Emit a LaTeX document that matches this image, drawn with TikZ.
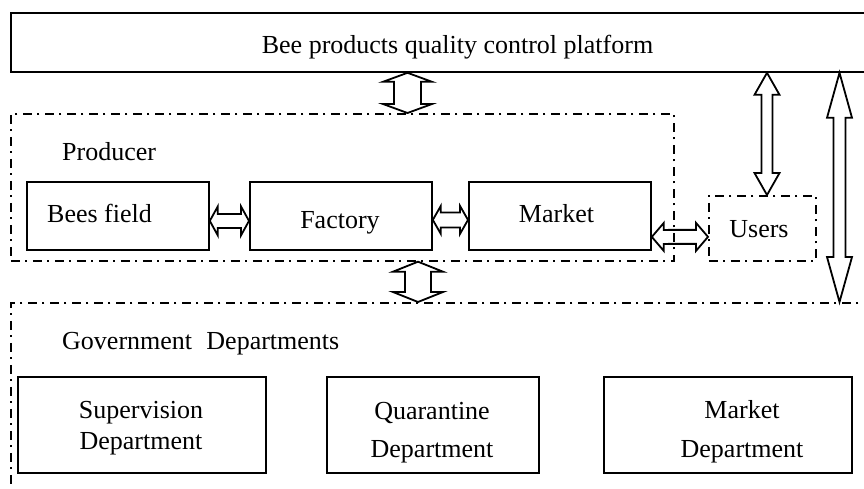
\documentclass[tikz,border=0pt]{standalone}
\usepackage{fontspec}
\setmainfont{Liberation Serif}
\usetikzlibrary{calc}
\tikzset{
  box/.style={draw, line width=1.8pt, rectangle, inner sep=0pt, anchor=north west},
  dbox/.style={draw, line width=1.7pt, dash pattern=on 9pt off 5.5pt on 2pt off 5.5pt, rectangle, inner sep=0pt, anchor=north west},
  txt/.style={inner sep=0pt, anchor=base},
  fat/.style={draw, line width=1.8pt, line join=miter},
}
\newcommand\FatH[5]{\draw[fat] let \p1=#1, \p2=#2 in
 (\x1,\y1) -- (\x1+#5,\y1+#4) -- (\x1+#5,\y1+#3) -- (\x2-#5,\y2+#3) -- (\x2-#5,\y2+#4) -- (\x2,\y2) -- (\x2-#5,\y2-#4) -- (\x2-#5,\y2-#3) -- (\x1+#5,\y1-#3) -- (\x1+#5,\y1-#4) -- cycle;}
\newcommand\FatV[5]{\draw[fat] let \p1=#1, \p2=#2 in
 (\x1,\y1) -- (\x1+#4,\y1-#5) -- (\x1+#3,\y1-#5) -- (\x2+#3,\y2+#5) -- (\x2+#4,\y2+#5) -- (\x2,\y2) -- (\x2-#4,\y2+#5) -- (\x2-#3,\y2+#5) -- (\x1-#3,\y1-#5) -- (\x1-#4,\y1-#5) -- cycle;}
\begin{document}
\begin{tikzpicture}[x=1pt,y=-1pt, every node/.style={font=\fontsize{26}{31}\selectfont}]
\useasboundingbox (0,0) rectangle (864,488);
\clip (0,0) rectangle (864,488);
% containers and boxes
\node[box, minimum width=895pt, minimum height=59pt] (plat) at (10,12) {};
\node[dbox, minimum width=663pt, minimum height=147pt] (prod) at (10,113) {};
\node[box, minimum width=182pt, minimum height=68pt] (bees) at (26,181) {};
\node[box, minimum width=182pt, minimum height=68pt] (fac) at (249,181) {};
\node[box, minimum width=182pt, minimum height=68pt] (mkt) at (468,181) {};
\node[dbox, minimum width=107pt, minimum height=65pt] (users) at (708,195) {};
\node[dbox, minimum width=900pt, minimum height=250pt] (gov) at (10,302) {};
\node[box, minimum width=248pt, minimum height=96pt] (sup) at (17,376) {};
\node[box, minimum width=212pt, minimum height=96pt] (qua) at (326,376) {};
\node[box, minimum width=248pt, minimum height=96pt] (mdep) at (603,376) {};
% texts
\node[txt] (tplat) at (457.5,53) {Bee products quality control platform};
\node[txt, anchor=base west] (tprod) at (62,160) {Producer};
\node[txt, anchor=base west] (tbees) at (47,222) {Bees field};
\node[txt] (tfac) at (340,228) {Factory};
\node[txt] (tmkt) at (556.5,222) {Market};
\node[txt] (tusers) at (759,237) {Users};
\node[txt, anchor=base west] (tgov) at (62,349) {Government\hspace{0.55em}Departments};
\node[txt] (tsup1) at (141,418) {Supervision};
\node[txt] (tsup2) at (141,449) {Department};
\node[txt] (tqua1) at (432,419) {Quarantine};
\node[txt] (tqua2) at (432,457) {Department};
\node[txt] (tmd1) at (742,418) {Market};
\node[txt] (tmd2) at (742,457) {Department};
% arrow axes
\coordinate (c1) at (407.5,0);
\coordinate (c2) at (418,0);
\coordinate (c3) at (767,0);
\coordinate (c4) at (839.5,0);
% horizontal fat arrows
\FatH{([yshift=-5pt]bees.east)}{([yshift=-5pt]fac.west)}{7pt}{14.5pt}{8pt}
\FatH{([yshift=-4pt]fac.east)}{([yshift=-4pt]mkt.west)}{7.5pt}{14pt}{8pt}
\FatH{([yshift=-21pt]mkt.east)}{([yshift=-8.5pt]users.west)}{7pt}{14pt}{12pt}
% vertical fat arrows
\FatV{(plat.south -| c1)}{(prod.north -| c1)}{13.5pt}{24.5pt}{9pt}
\FatV{(prod.south -| c2)}{(gov.north -| c2)}{13pt}{25pt}{10pt}
\FatV{(plat.south -| c3)}{(users.north -| c3)}{5.5pt}{12.5pt}{22pt}
\FatV{(plat.south -| c4)}{(gov.north -| c4)}{6pt}{12.5pt}{45pt}
\end{tikzpicture}
\end{document}
